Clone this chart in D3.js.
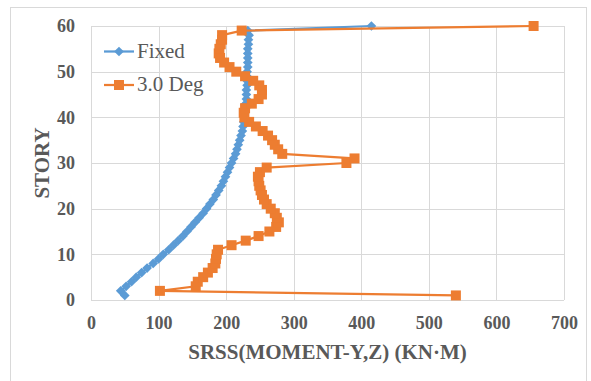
<!DOCTYPE html>
<html>
<head>
<meta charset="utf-8">
<script src="https://cdn.jsdelivr.net/npm/d3@7"></script>
<style>
  body { margin: 0; background: #fff; }
  text { font-family: "Liberation Serif", "Times New Roman", serif; }
</style>
</head>
<body>
<div id="chart"></div>
<script>
// Data
var stories = d3.range(1, 61);
var fixedVals = [50, 44, 52, 60, 67, 75, 83, 92, 100, 107,
                 115, 122, 129, 136, 142, 148, 154, 160, 166, 171,
                 176, 181, 185, 189, 193, 196, 199, 202, 205, 208,
                 211, 214, 216, 218, 220, 222, 224, 225, 226, 227,
                 228, 229, 229, 230, 230, 230, 231, 231, 231, 231,
                 232, 232, 232, 232, 232, 233, 233, 234, 232, 415];
var degVals = [540, 102, 155, 158, 166, 173, 180, 184, 185, 186,
               188, 208, 229, 248, 264, 274, 278, 275, 272, 266,
               260, 256, 253, 251, 249, 248, 247, 250, 260, 378,
               390, 283, 277, 272, 268, 262, 254, 244, 234, 227,
               226, 228, 238, 248, 253, 253, 249, 240, 228, 215,
               205, 197, 191, 189, 190, 192, 194, 194, 223, 655];
var seriesNames = ["Fixed", "3.0 Deg"];
var xTicks = [0, 100, 200, 300, 400, 500, 600, 700];
var yTicks = [0, 10, 20, 30, 40, 50, 60];

var width = 591, height = 381;
var plot = {left: 91, right: 564, top: 26, bottom: 300};

var svg = d3.select("#chart").append("svg")
            .attr("width", width)
            .attr("height", height);

// chart area border
svg.append("rect")
   .attr("x", 10.5).attr("y", 7.5)
   .attr("width", 576).attr("height", 380)
   .attr("fill", "#fff")
   .attr("stroke", "#d9d9d9");

var x = d3.scaleLinear().domain([0, 700]).range([plot.left, plot.right]);
var y = d3.scaleLinear().domain([0, 60]).range([plot.bottom, plot.top]);

// gridlines
svg.append("g").selectAll("line.vg")
   .data(xTicks).enter().append("line")
   .attr("x1", function(d) { return Math.round(x(d)) + 0.5; })
   .attr("x2", function(d) { return Math.round(x(d)) + 0.5; })
   .attr("y1", plot.top).attr("y2", plot.bottom)
   .style("stroke", "#d9d9d9").style("stroke-width", 1);
svg.append("g").selectAll("line.hg")
   .data(yTicks).enter().append("line")
   .attr("y1", function(d) { return Math.round(y(d)) + 0.5; })
   .attr("y2", function(d) { return Math.round(y(d)) + 0.5; })
   .attr("x1", plot.left).attr("x2", plot.right)
   .style("stroke", "#d9d9d9").style("stroke-width", 1);

// tick labels
var xAxis = d3.axisBottom(x).tickValues(xTicks).tickSize(0).tickPadding(16);
svg.append("g").attr("transform", "translate(0," + plot.bottom + ")")
   .call(xAxis)
   .call(function(g) { g.select(".domain").remove(); })
   .selectAll("text")
   .style("font-family", "Liberation Serif").style("font-size", "18px")
   .style("font-weight", "bold").style("fill", "#595959");

var yAxis = d3.axisLeft(y).tickValues(yTicks).tickSize(0).tickPadding(16);
svg.append("g").attr("transform", "translate(" + plot.left + ",0)")
   .call(yAxis)
   .call(function(g) { g.select(".domain").remove(); })
   .selectAll("text")
   .style("font-family", "Liberation Serif").style("font-size", "18px")
   .style("font-weight", "bold").style("fill", "#595959");

// axis titles
svg.append("text")
   .attr("x", (plot.left + plot.right) / 2).attr("y", 359)
   .attr("text-anchor", "middle")
   .style("font-size", "21px").style("font-weight", "bold").style("fill", "#595959")
   .text("SRSS(MOMENT-Y,Z) (KN·M)");
svg.append("text")
   .attr("transform", "translate(49," + ((plot.top + plot.bottom) / 2) + ") rotate(-90)")
   .attr("text-anchor", "middle")
   .style("font-size", "21px").style("font-weight", "bold").style("fill", "#595959")
   .text("STORY");

// series
var line = d3.line()
             .x(function(d) { return x(d[0]); })
             .y(function(d) { return y(d[1]); });

var fixedData = stories.map(function(s, i) { return [fixedVals[i], s]; });
var degData = stories.map(function(s, i) { return [degVals[i], s]; });

svg.append("path").datum(fixedData)
   .attr("d", line).attr("fill", "none")
   .style("stroke", "#5B9BD5").style("stroke-width", 2.25);
svg.append("g").selectAll("path")
   .data(fixedData).enter().append("path")
   .attr("d", d3.symbol().type(d3.symbolDiamond2).size(60))
   .attr("transform", function(d) { return "translate(" + x(d[0]) + "," + y(d[1]) + ")"; })
   .style("fill", "#5B9BD5");

svg.append("path").datum(degData)
   .attr("d", line).attr("fill", "none")
   .style("stroke", "#ED7D31").style("stroke-width", 2.25);
svg.append("g").selectAll("rect")
   .data(degData).enter().append("rect")
   .attr("x", function(d) { return x(d[0]) - 5; })
   .attr("y", function(d) { return y(d[1]) - 5; })
   .attr("width", 10).attr("height", 10)
   .style("fill", "#ED7D31");

// legend
var legend = svg.append("g").attr("transform", "translate(104,51.5)");
var legColors = ["#5B9BD5", "#ED7D31"];
seriesNames.forEach(function(name, i) {
  var g = legend.append("g").attr("transform", "translate(0," + (i * 33.5) + ")");
  g.append("line").attr("x1", 0).attr("x2", 30).attr("y1", 0).attr("y2", 0)
   .style("stroke", legColors[i]).style("stroke-width", 2.25);
  if (i === 0) {
    g.append("path").attr("d", d3.symbol().type(d3.symbolDiamond2).size(60))
     .attr("transform", "translate(15,0)").style("fill", legColors[i]);
  } else {
    g.append("rect").attr("x", 10).attr("y", -5).attr("width", 10).attr("height", 10)
     .style("fill", legColors[i]);
  }
  g.append("text").attr("x", 33).attr("y", 6)
   .style("font-size", "21px").style("fill", "#595959")
   .text(name);
});
</script>
</body>
</html>
